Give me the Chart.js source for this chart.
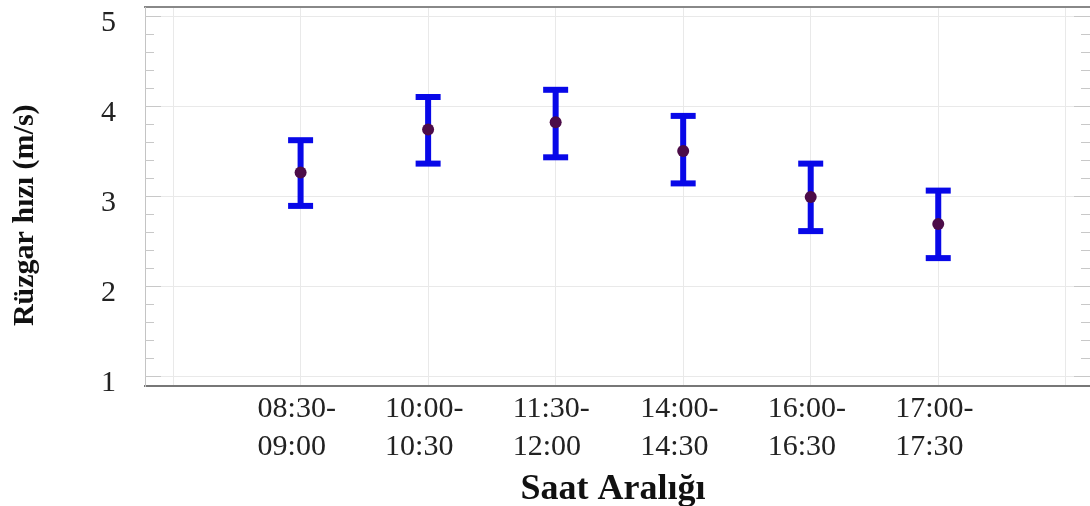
<!DOCTYPE html>
<html>
<head>
<meta charset="utf-8">
<script src="https://cdn.jsdelivr.net/npm/chart.js@4"></script>
<style>
  html, body { margin: 0; padding: 0; background: #fff; }
  #wrap { width: 1090px; height: 506px; }
</style>
</head>
<body>
<div id="wrap"><canvas id="chart"></canvas></div>
<script>
// time slots (x categories) and wind speed stats
var hours = [['08:30-', '09:00'], ['10:00-', '10:30'], ['11:30-', '12:00'],
             ['14:00-', '14:30'], ['16:00-', '16:30'], ['17:00-', '17:30']];
var means = [3.26, 3.74, 3.82, 3.50, 2.99, 2.69];
var upper = [3.62, 4.10, 4.18, 3.89, 3.36, 3.06];
var lower = [2.89, 3.36, 3.43, 3.14, 2.61, 2.31];
var yTicks = [1, 2, 3, 4, 5];

var BLUE = '#0808e8';
var serif = "'Liberation Serif', 'Times New Roman', serif";

var stem = [], caps = [], dots = [];
hours.forEach(function(h, i) {
  var x = i + 1;
  stem.push({x: x, y: lower[i]}, {x: x, y: upper[i]}, {x: x, y: null});
  caps.push({x: x, y: lower[i]}, {x: x, y: upper[i]});
  dots.push({x: x, y: means[i]});
});

// small inward ticks on the left/right frame, like the original plot
var frameTicks = {
  id: 'frameTicks',
  beforeDatasetsDraw: function(chart) {
    var ctx = chart.ctx, a = chart.chartArea, y = chart.scales.y;
    ctx.save();
    ctx.strokeStyle = '#c8c8c8';
    ctx.lineWidth = 1;
    for (var k = 5; k <= 25; k++) {
      var py = Math.round(y.getPixelForValue(k / 5)) + 0.5;
      var len = k % 5 === 0 ? 16 : 9;
      ctx.beginPath();
      ctx.moveTo(a.left, py); ctx.lineTo(a.left + len, py);
      ctx.moveTo(a.right, py); ctx.lineTo(a.right - len, py);
      ctx.stroke();
    }
    ctx.restore();
  }
};

var config = {
  type: 'scatter',
  data: {
    datasets: [
      {
        type: 'line',
        data: stem,
        borderColor: BLUE,
        borderWidth: 6,
        pointRadius: 0,
        spanGaps: false,
        order: 2
      },
      {
        data: caps,
        pointStyle: 'line',
        pointRadius: 12.5,
        borderColor: BLUE,
        pointBorderWidth: 6,
        borderWidth: 6,
        order: 3
      },
      {
        data: dots,
        pointRadius: 6,
        pointBackgroundColor: '#4c0c48',
        pointBorderWidth: 0,
        order: 1
      }
    ]
  },
  options: {
    responsive: true,
    maintainAspectRatio: false,
    animation: false,
    layout: { autoPadding: false, padding: { top: 7, right: 0, left: 0, bottom: 0 } },
    plugins: {
      legend: { display: false },
      tooltip: { enabled: false }
    },
    scales: {
      x: {
        type: 'linear',
        min: -0.22,
        max: 7.19,
        afterBuildTicks: function(s) {
          s.ticks = [0, 1, 2, 3, 4, 5, 6, 7].map(function(v) { return {value: v}; });
        },
        afterFit: function(s) { s.height = 120; s.paddingLeft = 0; s.paddingRight = 0; },
        ticks: {
          autoSkip: false,
          maxRotation: 0,
          align: 'start',
          labelOffset: -43,
          padding: 4,
          color: '#222',
          font: { family: serif, size: 30, lineHeight: 1.27 },
          callback: function(v) { return (v >= 1 && v <= 6) ? hours[v - 1] : ''; }
        },
        grid: { color: '#e9e9e9', drawTicks: false },
        border: { color: '#777', width: 2 },
        title: {
          display: true,
          text: 'Saat Aralığı\u00a0',
          color: '#111',
          padding: 0,
          font: { family: serif, size: 36, weight: 'bold', lineHeight: 0.9 }
        }
      },
      xTop: {
        type: 'linear',
        position: 'top',
        min: -0.22,
        max: 7.19,
        afterFit: function(s) { s.height = 0; s.paddingLeft = 0; s.paddingRight = 0; },
        ticks: { display: false },
        grid: { display: false, drawTicks: false },
        border: { color: '#888', width: 2 }
      },
      y: {
        min: 0.889,
        max: 5.1,
        afterBuildTicks: function(s) {
          s.ticks = yTicks.map(function(v) { return {value: v}; });
        },
        afterFit: function(s) { s.width = 145; s.paddingTop = 0; s.paddingBottom = 0; },
        ticks: {
          padding: 29,
          labelOffset: 7,
          color: '#222',
          font: { family: serif, size: 30 }
        },
        grid: { color: '#e9e9e9', drawTicks: false },
        border: { color: '#c4c4c4', width: 1 },
        title: {
          display: true,
          text: 'Rüzgar hızı (m/s)\u00a0\u00a0\u00a0\u00a0\u00a0',
          color: '#111',
          padding: { top: 7, bottom: 0 },
          font: { family: serif, size: 30, weight: 'bold', lineHeight: 1.2 }
        }
      }
    }
  },
  plugins: [frameTicks]
};

var ctx = document.getElementById('chart').getContext('2d');
var windChart = new Chart(ctx, config);
</script>
</body>
</html>
